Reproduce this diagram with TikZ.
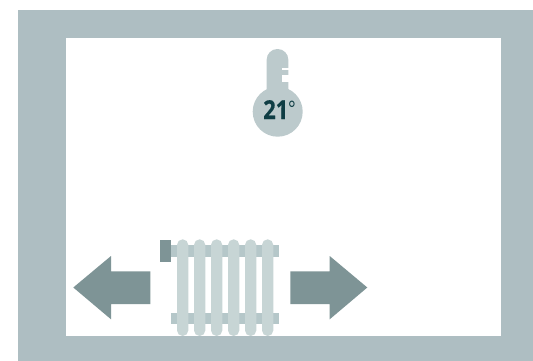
\documentclass[tikz,border=0pt]{standalone}
\usepackage{fontspec}
\setmainfont{Open Sans}
\newfontfamily\tempfont[BoldFeatures={FakeBold=0.5}]{Open Sans}
\definecolor{wallc}{HTML}{AEBEC2}
\definecolor{arrowc}{HTML}{7E9496}
\definecolor{finc}{HTML}{C7D5D5}
\definecolor{barc}{HTML}{B5C7C9}
\definecolor{thermc}{HTML}{BCCACC}
\definecolor{textc}{HTML}{0F3D44}
\tikzset{
  fin/.style={fill=finc,rounded corners=4.2pt},
  crossbar/.style={fill=barc},
  heatarrow/.style={fill=arrowc},
}
\begin{document}
\begin{tikzpicture}[x=0.75pt,y=-0.75pt]
\useasboundingbox (0,0) rectangle (533,361);
\fill[white] (0,0) rectangle (533,361);
\fill[wallc] (18,10) rectangle (533,361);
\fill[white] (66,38) rectangle (501,336);
% thermometer
\fill[thermc,rounded corners=8pt] (266.7,100) -- (266.7,49) -- (288.3,49) -- (288.3,100) -- cycle;
\fill[thermc] (277.7,111.7) circle[radius=25];
\fill[white] (281.7,67.5) rectangle (288.8,70);
\fill[white] (281.7,75) rectangle (288.8,81.5);
\node[text=textc,font=\tempfont\bfseries\fontsize{19.5}{19.5}\selectfont,inner sep=0pt,xscale=0.84,anchor=base] (temp) at (279.6,119) {21\raisebox{2.2pt}{\mdseries\fontsize{16}{16}\selectfont°}};
% arrows
\fill[heatarrow] (73.3,287.5) -- (111,256) -- (111,271.3) -- (150.3,271.3) -- (150.3,304) -- (111,304) -- (111,319.3) -- cycle;
\fill[heatarrow] (367.3,287.5) -- (329.7,256) -- (329.7,271.3) -- (290.3,271.3) -- (290.3,304) -- (329.7,304) -- (329.7,319.3) -- cycle;
% radiator
\fill[crossbar] (171,245.3) rectangle (279,256.7);
\fill[crossbar] (171,313.3) rectangle (279,324.3);
\foreach \fx in {177,194,211,228,245,262}
  \fill[fin] (\fx,239.3) rectangle (\fx+11.3,336);
\fill[arrowc] (159.7,239.7) rectangle (171,262.3);
\end{tikzpicture}
\end{document}
